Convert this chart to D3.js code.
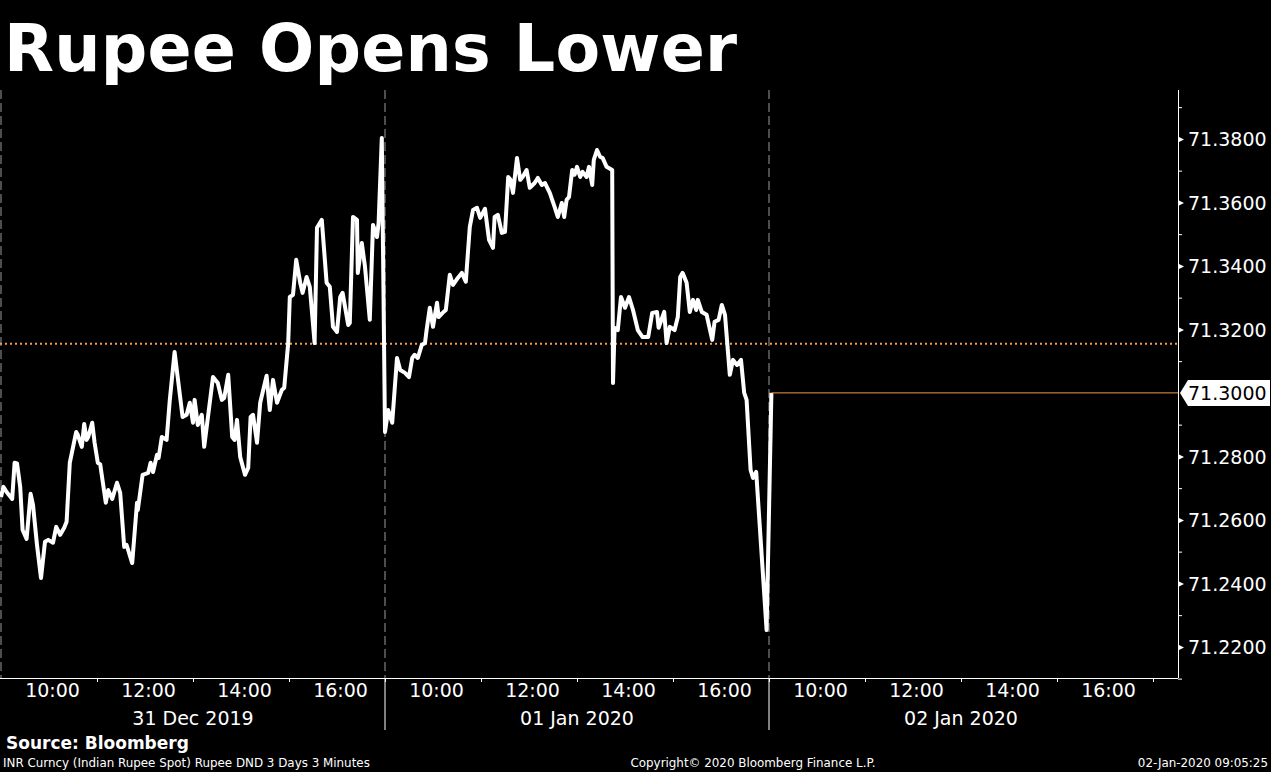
<!DOCTYPE html>
<html>
<head>
<meta charset="utf-8">
<script src="https://cdn.jsdelivr.net/npm/d3@7"></script>
<style>
  body { margin: 0; background: #000; }
  svg { display: block; }
</style>
</head>
<body>
<div id="chart"></div>
<script>
// INR spot, 3 minute bars, three sessions (09:00 - 17:00)
const dayLabels = ["31 Dec 2019", "01 Jan 2020", "02 Jan 2020"];

const dec31Times = ["09:00","09:03","09:07","09:14","09:17","09:20","09:24","09:27","09:32","09:37","09:40","09:45","09:50","09:55","09:59",
  "10:05","10:09","10:14","10:19","10:22","10:26","10:34","10:36","10:41","10:44","10:47","10:49","10:54","10:57",
  "11:01","11:04","11:11","11:14","11:19","11:25","11:29","11:34","11:37","11:44","11:50","11:51","11:57",
  "12:04","12:07","12:10","12:15","12:17","12:21","12:27","12:31","12:37","12:41","12:47","12:52","12:56",
  "13:00","13:02","13:06","13:11","13:14","13:25","13:31","13:36","13:39","13:44","13:49","13:52","13:55","13:59",
  "14:05","14:09","14:12","14:15","14:20","14:24","14:32","14:36","14:40","14:45","14:51","14:54","14:59",
  "15:01","15:05","15:09","15:14","15:17","15:22","15:26","15:32","15:35","15:41","15:47","15:51","15:55",
  "16:00","16:04","16:07","16:14","16:16","16:20","16:25","16:26","16:31","16:35","16:41","16:45","16:50","16:52","16:56"];
const dec31Values = [71.2672,71.2704,71.2688,71.2666,71.2780,71.2778,71.2704,71.2568,71.2540,71.2682,71.2647,71.2521,71.2417,71.2531,71.2537,
  71.2528,71.2578,71.2553,71.2575,71.2594,71.2780,71.2877,71.2868,71.2830,71.2902,71.2852,71.2861,71.2906,71.2843,
  71.2780,71.2775,71.2654,71.2694,71.2666,71.2717,71.2685,71.2515,71.2521,71.2464,71.2654,71.2631,71.2742,
  71.2748,71.2780,71.2751,71.2805,71.2795,71.2861,71.2852,71.2978,71.3129,71.3047,71.2924,71.2931,71.2969,
  71.2906,71.2978,71.2899,71.2931,71.2830,71.3050,71.3031,71.2978,71.2984,71.3057,71.2861,71.2852,71.2915,71.2798,
  71.2742,71.2764,71.2924,71.2931,71.2843,71.2969,71.3054,71.2946,71.3041,71.2969,71.3009,71.3016,71.3157,
  71.3302,71.3309,71.3419,71.3347,71.3315,71.3365,71.3334,71.3157,71.3520,71.3545,71.3347,71.3334,71.3208,
  71.3192,71.3302,71.3315,71.3214,71.3220,71.3554,71.3545,71.3378,71.3472,71.3397,71.3230,71.3529,71.3491,71.3535,71.3803];

const jan01Times = ["09:00","09:04","09:09","09:15","09:19","09:25","09:30","09:34","09:37","09:41","09:46","09:50","09:52","09:56",
  "10:00","10:05","10:07","10:12","10:16","10:21","10:25","10:31","10:36","10:41","10:46","10:50","10:55","10:59",
  "11:05","11:10","11:15","11:17","11:21","11:26","11:30","11:34","11:37","11:40","11:45","11:49","11:52","11:57",
  "12:01","12:07","12:11","12:16","12:20","12:26","12:32","12:36","12:41","12:44","12:47","12:50","12:54","12:57",
  "13:00","13:04","13:07","13:12","13:15","13:19","13:21","13:25","13:29","13:32","13:37","13:44","13:45","13:47","13:51","13:55",
  "14:00","14:05","14:10","14:16","14:22","14:29","14:34","14:40","14:42","14:49","14:52","14:56",
  "15:02","15:06","15:09","15:12","15:17","15:21","15:25","15:29","15:31","15:36","15:42","15:49","15:52","15:57",
  "16:01","16:05","16:11","16:15","16:20","16:25","16:29","16:32","16:37","16:40","16:44","16:57"];
const jan01Values = [71.2877,71.2946,71.2906,71.3110,71.3072,71.3063,71.3050,71.3110,71.3120,71.3110,71.3151,71.3157,71.3198,71.3268,
  71.3208,71.3284,71.3239,71.3252,71.3261,71.3372,71.3340,71.3362,71.3378,71.3350,71.3523,71.3576,71.3583,71.3551,
  71.3580,71.3482,71.3457,71.3554,71.3561,71.3504,71.3507,71.3680,71.3671,71.3630,71.3740,71.3671,71.3680,71.3702,
  71.3646,71.3661,71.3677,71.3655,71.3661,71.3630,71.3586,71.3554,71.3598,71.3554,71.3608,71.3617,71.3702,71.3687,
  71.3712,71.3680,71.3696,71.3680,71.3712,71.3655,71.3734,71.3765,71.3743,71.3740,71.3712,71.3702,71.3031,71.3205,71.3198,71.3302,
  71.3268,71.3302,71.3261,71.3198,71.3176,71.3176,71.3252,71.3255,71.3205,71.3255,71.3157,71.3208,
  71.3198,71.3239,71.3365,71.3378,71.3347,71.3255,71.3293,71.3261,71.3293,71.3255,71.3246,71.3167,71.3224,71.3230,
  71.3277,71.3246,71.3057,71.3104,71.3088,71.3104,71.3000,71.2978,71.2757,71.2732,71.2751,71.2253];

const jan02Times = ["09:03"];
const jan02Values = [71.3000];

const previousClose = 71.3155;
const lastPrice = 71.3000;

const yTickValues = [71.22, 71.24, 71.26, 71.28, 71.30, 71.32, 71.34, 71.36, 71.38];
const yMinorTicks = [71.21, 71.23, 71.25, 71.27, 71.29, 71.31, 71.33, 71.35, 71.37, 71.39];
const hourLabels = ["10:00", "12:00", "14:00", "16:00"];
const hourMinorTicks = ["11:00", "13:00", "15:00", "17:00"];

const sessionOpen = 9, sessionLength = 8;
function sessionHour(dayIndex, hhmm) {
  const [h, m] = hhmm.split(":").map(Number);
  return dayIndex * sessionLength + h + m / 60 - sessionOpen;
}

const series = [];
[[dec31Times, dec31Values], [jan01Times, jan01Values], [jan02Times, jan02Values]].forEach(([times, vals], d) => {
  times.forEach((t, i) => series.push({ t: sessionHour(d, t), v: vals[i] }));
});

const width = 1271, height = 772;
const plot = { left: 0, right: 1178, top: 90, bottom: 678 };
const font = "'DejaVu Sans', sans-serif";

const svg = d3.select("#chart").append("svg")
  .attr("width", width)
  .attr("height", height)
  .style("background", "#000");

svg.append("rect").attr("width", width).attr("height", height).attr("fill", "#000");

const x = d3.scaleLinear().domain([0, 24.5]).range([1, 1177]);
const y = d3.scaleLinear().domain([71.2102, 71.3954]).range([plot.bottom, plot.top]);

// title
svg.append("text")
  .attr("x", 4)
  .attr("y", 71)
  .attr("fill", "#fff")
  .attr("textLength", 733)
  .style("font-family", font)
  .style("font-weight", "bold")
  .style("font-size", "65px")
  .text("Rupee Opens Lower");

// day separators
[0, 1, 2].forEach(d => {
  const xs = x(d * sessionLength);
  svg.append("line")
    .attr("x1", xs).attr("x2", xs)
    .attr("y1", plot.top).attr("y2", plot.bottom)
    .attr("stroke", "#9a9a9a")
    .attr("stroke-width", 1)
    .attr("stroke-dasharray", "9,4");
  if (d > 0) {
    svg.append("line")
      .attr("x1", xs).attr("x2", xs)
      .attr("y1", plot.bottom).attr("y2", 730)
      .attr("stroke", "#fff");
  }
});

// previous close, dotted
svg.append("line")
  .attr("x1", plot.left).attr("x2", plot.right)
  .attr("y1", y(previousClose)).attr("y2", y(previousClose))
  .attr("stroke", "#f59d4c")
  .attr("stroke-width", 2)
  .attr("stroke-dasharray", "2,3");

// price line
const line = d3.line().x(d => x(d.t)).y(d => y(d.v));
svg.append("path")
  .datum(series)
  .attr("d", line)
  .attr("fill", "none")
  .attr("stroke", "#fff")
  .attr("stroke-width", 4)
  .attr("stroke-linejoin", "round");

// last price, solid orange to the axis
const last = series[series.length - 1];
svg.append("line")
  .attr("x1", x(last.t)).attr("x2", plot.right)
  .attr("y1", y(lastPrice)).attr("y2", y(lastPrice))
  .attr("stroke", "#f09a48")
  .attr("stroke-width", 1);

// axes lines
svg.append("line")
  .attr("x1", plot.left).attr("x2", plot.right)
  .attr("y1", plot.bottom + 0.5).attr("y2", plot.bottom + 0.5)
  .attr("stroke", "#fff");
svg.append("line")
  .attr("x1", plot.right + 0.5).attr("x2", plot.right + 0.5)
  .attr("y1", plot.top).attr("y2", plot.bottom)
  .attr("stroke", "#fff");

// bottom axis
const labelHours = [], minorHours = [];
[0, 1, 2].forEach(d => {
  hourLabels.forEach(h => labelHours.push(sessionHour(d, h)));
  hourMinorTicks.forEach(h => minorHours.push(sessionHour(d, h)));
});
const fmtHour = t => {
  const h = sessionOpen + (t % sessionLength);
  return (h < 10 ? "0" : "") + h + ":00";
};

const xAxis = svg.append("g")
  .attr("transform", `translate(0,${plot.bottom})`)
  .call(d3.axisBottom(x).tickValues(labelHours).tickFormat(fmtHour).tickSize(0).tickPadding(6));
xAxis.select(".domain").remove();
xAxis.selectAll("text")
  .attr("fill", "#fff")
  .attr("dx", 3)
  .style("font-family", font)
  .style("font-size", "19px");

const xMinor = svg.append("g")
  .attr("transform", `translate(0,${plot.bottom})`)
  .call(d3.axisBottom(x).tickValues(minorHours).tickFormat("").tickSize(4));
xMinor.select(".domain").remove();
xMinor.selectAll("line").attr("stroke", "#fff");

// date labels
svg.append("g").selectAll("text")
  .data(dayLabels)
  .join("text")
  .attr("x", (d, i) => x(i * sessionLength + sessionLength / 2))
  .attr("y", 725)
  .attr("text-anchor", "middle")
  .attr("fill", "#fff")
  .style("font-family", font)
  .style("font-size", "19px")
  .text(d => d);

// right axis
const yAxis = svg.append("g")
  .attr("transform", `translate(${plot.right},0)`)
  .call(d3.axisRight(y)
    .tickValues(yTickValues.filter(v => Math.abs(v - lastPrice) > 1e-9))
    .tickFormat(d3.format(".4f"))
    .tickSize(0)
    .tickPadding(10));
yAxis.select(".domain").remove();
yAxis.selectAll("text")
  .attr("fill", "#fff")
  .attr("dy", "0.36em")
  .style("font-family", font)
  .style("font-size", "19px");
yAxis.selectAll(".tick").append("path")
  .attr("d", "M0,-3L6,0L0,3Z")
  .attr("fill", "#fff");

const yMinor = svg.append("g")
  .attr("transform", `translate(${plot.right},0)`)
  .call(d3.axisRight(y).tickValues(yMinorTicks).tickFormat("").tickSize(4));
yMinor.select(".domain").remove();
yMinor.selectAll("line").attr("stroke", "#fff");

// last price tag
const ly = y(lastPrice);
svg.append("path")
  .attr("d", `M${plot.right + 2},${ly}L${plot.right + 10},${ly - 13}L${width - 1},${ly - 13}L${width - 1},${ly + 13}L${plot.right + 10},${ly + 13}Z`)
  .attr("fill", "#fff");
svg.append("text")
  .attr("x", plot.right + 10)
  .attr("y", ly)
  .attr("dy", "0.36em")
  .attr("fill", "#000")
  .style("font-family", font)
  .style("font-size", "19px")
  .text(d3.format(".4f")(lastPrice));

// footer
svg.append("text")
  .attr("x", 6).attr("y", 749)
  .attr("fill", "#fff")
  .style("font-family", font)
  .style("font-weight", "bold")
  .style("font-size", "17px")
  .text("Source: Bloomberg");

const footer = [
  { text: "INR Curncy (Indian Rupee Spot) Rupee DND 3 Days 3 Minutes", x: 3, anchor: "start" },
  { text: "Copyright\u00A9 2020 Bloomberg Finance L.P.", x: 753, anchor: "middle" },
  { text: "02-Jan-2020 09:05:25", x: 1268, anchor: "end" }
];
svg.append("g").selectAll("text")
  .data(footer)
  .join("text")
  .attr("x", d => d.x)
  .attr("y", 767)
  .attr("text-anchor", d => d.anchor)
  .attr("fill", "#fff")
  .style("font-family", font)
  .style("font-size", "11.9px")
  .text(d => d.text);
</script>
</body>
</html>
